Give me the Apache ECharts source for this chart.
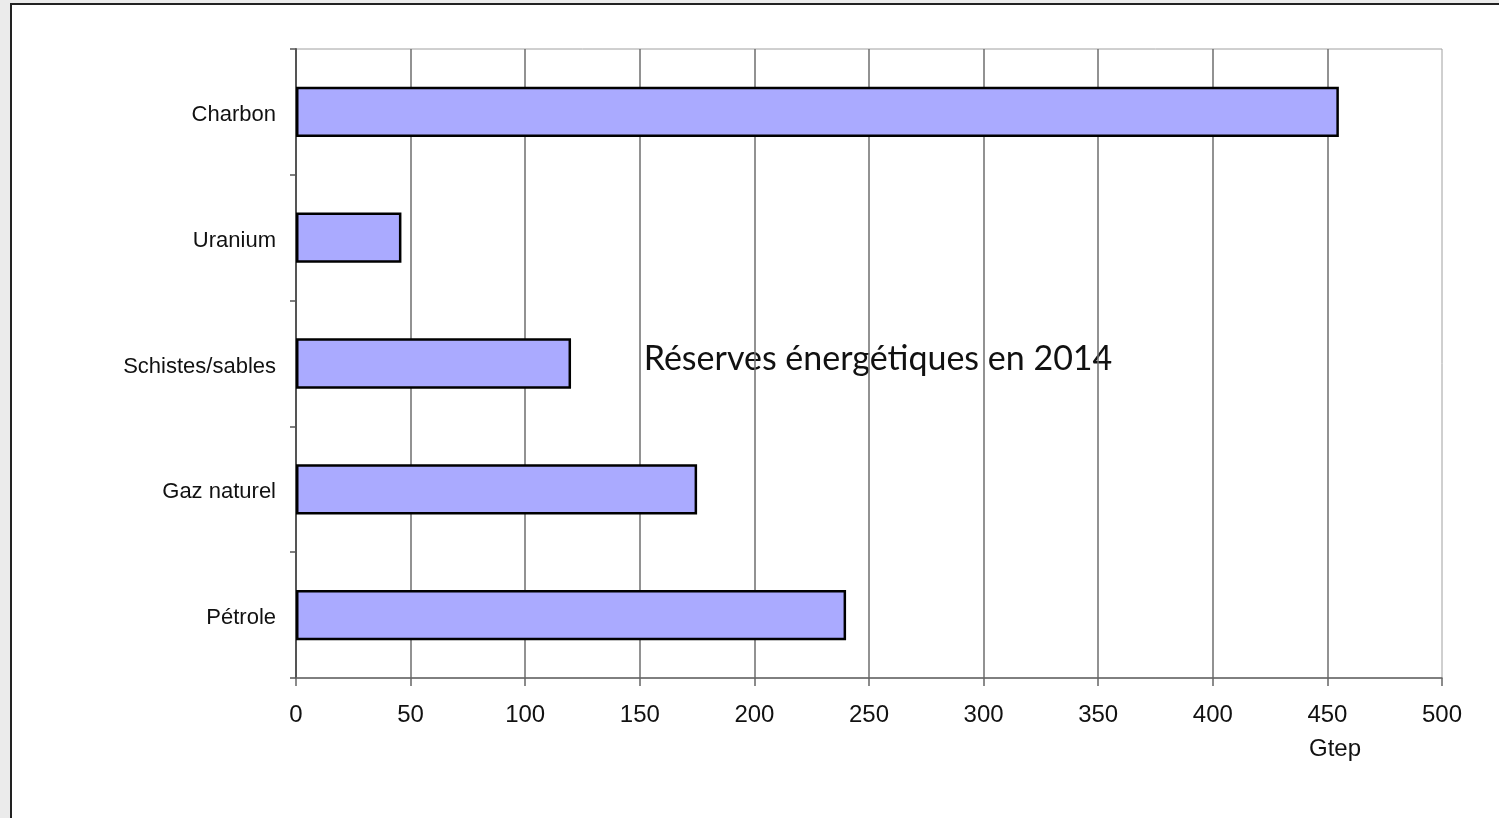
<!DOCTYPE html>
<html>
<head>
<meta charset="utf-8">
<script src="https://cdn.jsdelivr.net/npm/echarts@6/dist/echarts.min.js"></script>
<style>
html,body{margin:0;padding:0;width:1499px;height:818px;overflow:hidden;background:#ebebeb;}
#frame{position:absolute;left:10px;top:3px;width:1500px;height:830px;background:#fff;border:2px solid #222;}
#chart{position:absolute;left:0;top:0;width:1499px;height:818px;}
</style>
</head>
<body>
<div id="frame"></div>
<div id="chart"></div>
<script>
const categories = ['Pétrole', 'Gaz naturel', 'Schistes/sables', 'Uranium', 'Charbon'];
const reserves = [240, 175, 120, 46, 455];
const titleText = 'Réserves énergétiques en 2014';
const unitText = 'Gtep';

const chart = echarts.init(document.getElementById('chart'), null, {renderer: 'canvas'});
chart.setOption({
  backgroundColor: 'transparent',
  animation: false,
  title: {
    text: titleText,
    left: 873, top: 337, textAlign: 'center', z: -1,
    textStyle: {fontFamily: 'Lato', fontWeight: 'normal', fontSize: 34, color: '#111'}
  },
  grid: {left: 296, right: 57, top: 49, bottom: 140, show: true, borderColor: '#a0a0a0', borderWidth: 1, backgroundColor: 'transparent'},
  xAxis: {
    type: 'value', min: 0, max: 500, interval: 50,
    axisLine: {show: true, lineStyle: {color: '#666', width: 1.5}},
    axisTick: {show: true, length: 8, lineStyle: {color: '#666', width: 1.5}},
    axisLabel: {margin: 25, fontFamily: 'Liberation Sans', fontSize: 24, color: '#111'},
    splitLine: {show: true, showMinLine: false, showMaxLine: false, lineStyle: {color: '#6e6e6e', width: 1.5}}
  },
  yAxis: {
    type: 'category', data: categories,
    axisLine: {show: true, lineStyle: {color: '#555', width: 2}},
    axisTick: {show: true, length: 6, alignWithLabel: false, lineStyle: {color: '#555', width: 1.5}},
    axisLabel: {margin: 20, fontFamily: 'Liberation Sans', fontSize: 22, color: '#111', verticalAlign: 'top', lineHeight: 26, padding: [-10, 0, 0, 0]},
    splitLine: {show: false}
  },
  graphic: [{
    type: 'text', left: 1337 - 28, top: 737, z: 10,
    style: {text: unitText, fontFamily: 'Liberation Sans', fontSize: 24, fill: '#111'}
  }],
  series: [{
    type: 'bar', data: reserves, barCategoryGap: '60%',
    itemStyle: {color: '#aaaaff', borderColor: '#000', borderWidth: 2.5}
  }]
});
</script>
</body>
</html>
